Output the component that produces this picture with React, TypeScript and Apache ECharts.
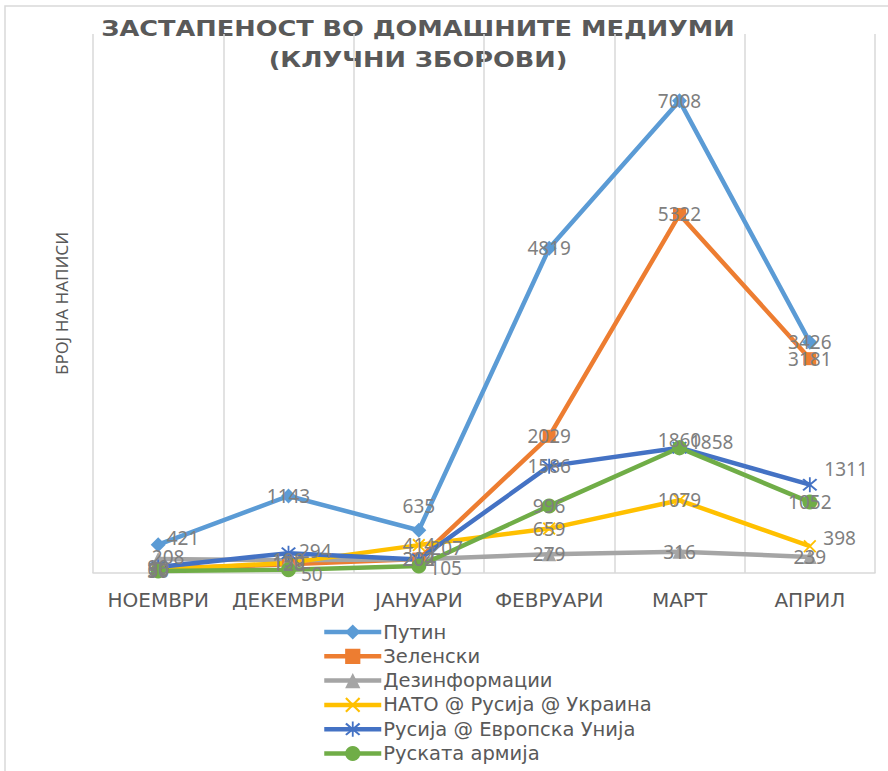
import React, { useEffect, useRef } from "react";
import * as echarts from "echarts";

const categories = ["НОЕМВРИ", "ДЕКЕМВРИ", "ЈАНУАРИ", "ФЕВРУАРИ", "МАРТ", "АПРИЛ"];
const putin = [421, 1143, 635, 4819, 7008, 3426];
const zelenski = [66, 128, 207, 2029, 5322, 3181];
const dezinfo = [208, 190, 204, 279, 316, 239];
const nato = [50, 150, 414, 659, 1079, 398];
const rusijaEu = [90, 294, 202, 1586, 1860, 1311];
const armija = [30, 50, 105, 996, 1858, 1052];
const seriesNames = [
  "Путин",
  "Зеленски",
  "Дезинформации",
  "НАТО @ Русија @ Украина",
  "Русија @ Европска Унија",
  "Руската армија",
];
const titleLines = ["ЗАСТАПЕНОСТ ВО ДОМАШНИТЕ МЕДИУМИ", "(КЛУЧНИ ЗБОРОВИ)"];
const yAxisName = "БРОЈ НА НАПИСИ";

const colors = ["#5B9BD5", "#ED7D31", "#A5A5A5", "#FFC000", "#4472C4", "#70AD47"];
const X_PATH = "path://M0,1L1,0L5,4L9,0L10,1L6,5L10,9L9,10L5,6L1,10L0,9L4,5Z";
const STAR_PATH = "path://M0,1L1,0L5,4L9,0L10,1L6,5L10,9L9,10L5,6L1,10L0,9L4,5ZM4.4,-1L5.6,-1L5.6,11L4.4,11Z";
const symbols = ["diamond", "rect", "triangle", X_PATH, STAR_PATH, "circle"];
const symbolSizes = [15, 13, 14, 13, 15, 15];

// label placement overrides: "seriesIndex-dataIndex" -> {position, offset}
const labelOverrides: Record<string, any> = {
  "0-0": { position: "right", offset: [-4, -7] },
  "0-2": { position: "top", offset: [0, -2] },
  "2-0": { position: "inside", offset: [10, -2] },
  "4-1": { position: "right", offset: [-2, -2] },
  "4-4": { position: "inside", offset: [0, -8] },
  "4-5": { position: "right", offset: [2, -16] },
  "5-1": { position: "right", offset: [0, 4] },
  "5-2": { position: "right", offset: [-2, 2] },
  "5-4": { position: "right", offset: [-2, -6] },
  "1-2": { position: "right", offset: [0, -11] },
  "3-5": { position: "right", offset: [2, -8] },
};

const FONT = "'Noto Sans', 'DejaVu Sans', sans-serif";

export default function App() {
  const ref = useRef<HTMLDivElement>(null);
  useEffect(() => {
    document.body.style.margin = "0";
    if (!ref.current) return;
    const chart = echarts.init(ref.current, null, { renderer: "svg" });
    const allData = [putin, zelenski, dezinfo, nato, rusijaEu, armija];
    const series = allData.map((vals, si) => ({
      name: seriesNames[si],
      type: "line",
      data: vals.map((v, di) => {
        const o = labelOverrides[`${si}-${di}`];
        return o ? { value: v, label: o } : v;
      }),
      symbol: symbols[si],
      symbolSize: symbolSizes[si],
      showAllSymbol: true,
      lineStyle: { width: 4.5, color: colors[si] },
      itemStyle: { color: colors[si] },
      label: {
        show: true,
        position: "inside",
        color: "#7F7F7F",
        fontSize: 19,
        fontFamily: FONT,
      },
      emphasis: { disabled: true },
    }));

    chart.setOption({
      animation: false,
      color: colors,
      grid: { left: 93, right: 13, top: 34, bottom: 198, containLabel: false },
      xAxis: {
        type: "category",
        data: categories,
        boundaryGap: true,
        axisLine: { lineStyle: { color: "#D9D9D9", width: 1.5 } },
        axisTick: { show: false },
        axisLabel: {
          interval: 0,
          color: "#595959",
          fontSize: 20,
          margin: 17,
          fontFamily: "'DejaVu Sans', sans-serif",
          hideOverlap: false,
        },
        splitLine: { show: true, interval: 0, lineStyle: { color: "#D9D9D9", width: 1.5 } },
      },
      yAxis: {
        type: "value",
        min: 0,
        max: 8000,
        axisLabel: { show: false },
        axisLine: { show: false },
        axisTick: { show: false },
        splitLine: { show: false },
        name: yAxisName,
        nameLocation: "middle",
        nameGap: 23,
        nameRotate: 90,
        nameTextStyle: { color: "#595959", fontSize: 17, fontFamily: FONT },
      },
      legend: {
        orient: "vertical",
        left: 322,
        top: 622,
        padding: 0,
        itemWidth: 57,
        itemHeight: 19,
        itemGap: 4.3,
        lineStyle: { width: 4.5 },
        textStyle: {
          color: "#595959",
          fontSize: 19.5,
          fontFamily: "'DejaVu Sans', sans-serif",
          padding: [0, 0, 0, -3],
        },
        data: seriesNames,
      },
      graphic: [
        {
          type: "rect",
          shape: { x: 5, y: 6, width: 920, height: 820 },
          style: { fill: "none", stroke: "#D9D9D9", lineWidth: 1.5 },
          silent: true,
        },
        {
          type: "text",
          x: 418,
          y: 29,
          scaleX: 1.22,
          style: {
            text: titleLines[0],
            fill: "#595959",
            fontSize: 21,
            fontWeight: "bold",
            fontFamily: "'DejaVu Sans', sans-serif",
            align: "center",
            verticalAlign: "middle",
          },
        },
        {
          type: "text",
          x: 418,
          y: 60,
          scaleX: 1.22,
          style: {
            text: titleLines[1],
            fill: "#595959",
            fontSize: 21,
            fontWeight: "bold",
            fontFamily: "'DejaVu Sans', sans-serif",
            align: "center",
            verticalAlign: "middle",
          },
        },
      ],
      series,
    });
    return () => chart.dispose();
  }, []);
  return <div ref={ref} style={{ width: 888, height: 771 }} />;
}
